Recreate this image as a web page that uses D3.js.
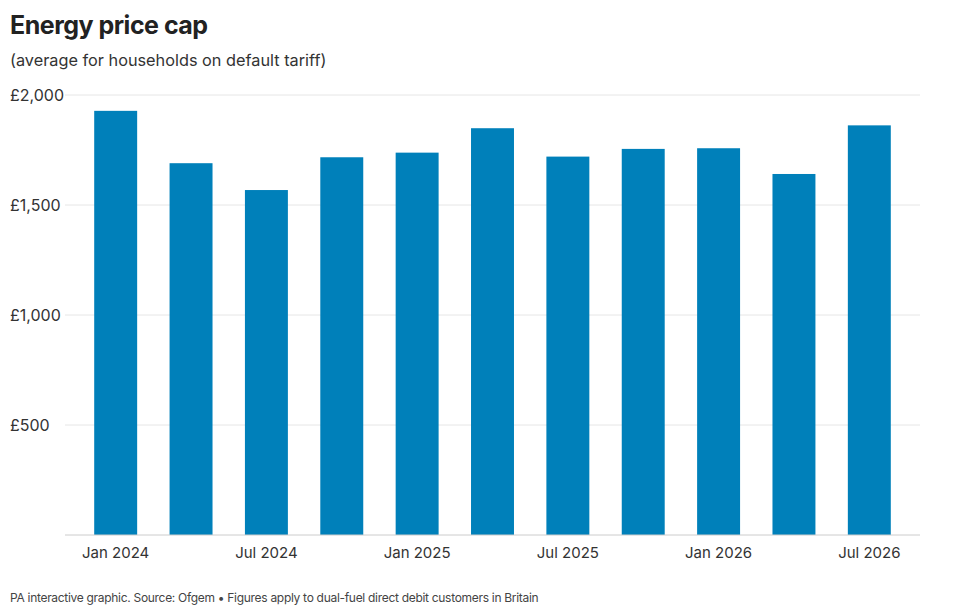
<!DOCTYPE html>
<html><head><meta charset="utf-8">
<script src="https://cdn.jsdelivr.net/npm/d3@7"></script>
<style>body{margin:0;background:#fff;font-family:Inter,"Noto Sans",sans-serif;}</style>
</head><body><svg id="canvas" width="960" height="611"></svg>
<script>
let periods = ["Jan 2024","Apr 2024","Jul 2024","Oct 2024","Jan 2025","Apr 2025","Jul 2025","Oct 2025","Jan 2026","Apr 2026","Jul 2026"];
let capValues = [1928,1690,1568,1717,1738,1849,1720,1755,1758,1641,1862];
let yTicks = [500,1000,1500,2000];
let xLabels = ["Jan 2024","Jul 2024","Jan 2025","Jul 2025","Jan 2026","Jul 2026"];

let svg = d3.select("#canvas");

let x = d3.scaleBand().domain(periods).range([78, 907]).paddingInner(0.43).paddingOuter(0.215);
let y = d3.scaleLinear().domain([0, 2000]).range([535, 95]);

svg.append("text").attr("x", 10).attr("y", 34).attr("font-size", 25).attr("font-weight", 700)
  .attr("fill", "#222").attr("letter-spacing", -0.5).text("Energy price cap");
svg.append("text").attr("x", 10).attr("y", 66).attr("font-size", 16.3).attr("fill", "#333")
  .text("(average for households on default tariff)");

// gridlines + labels
yTicks.forEach(t => {
  svg.append("line").attr("x1", 65).attr("x2", 920).attr("y1", y(t)).attr("y2", y(t))
    .attr("stroke", "#e6e6e6");
  svg.append("text").attr("x", 10).attr("y", y(t) + 6).attr("font-size", 16).attr("fill", "#333")
    .text("£" + d3.format(",")(t));
});

svg.selectAll("rect").data(periods).enter().append("rect")
  .attr("x", d => x(d)).attr("width", x.bandwidth())
  .attr("y", (d, i) => y(capValues[i])).attr("height", (d, i) => y(0) - y(capValues[i]))
  .attr("fill", "#0080ba");

svg.append("line").attr("x1", 65).attr("x2", 920).attr("y1", 535).attr("y2", 535).attr("stroke", "#ccc");

xLabels.forEach(l => {
  svg.append("text").attr("x", x(l) + x.bandwidth() / 2).attr("y", 558).attr("text-anchor", "middle")
    .attr("font-size", 15).attr("fill", "#333").text(l);
});

svg.append("text").attr("x", 10).attr("y", 602).attr("font-size", 12).attr("letter-spacing", -0.3).attr("fill", "#444")
  .text("PA interactive graphic. Source: Ofgem • Figures apply to dual-fuel direct debit customers in Britain");
</script></body></html>
